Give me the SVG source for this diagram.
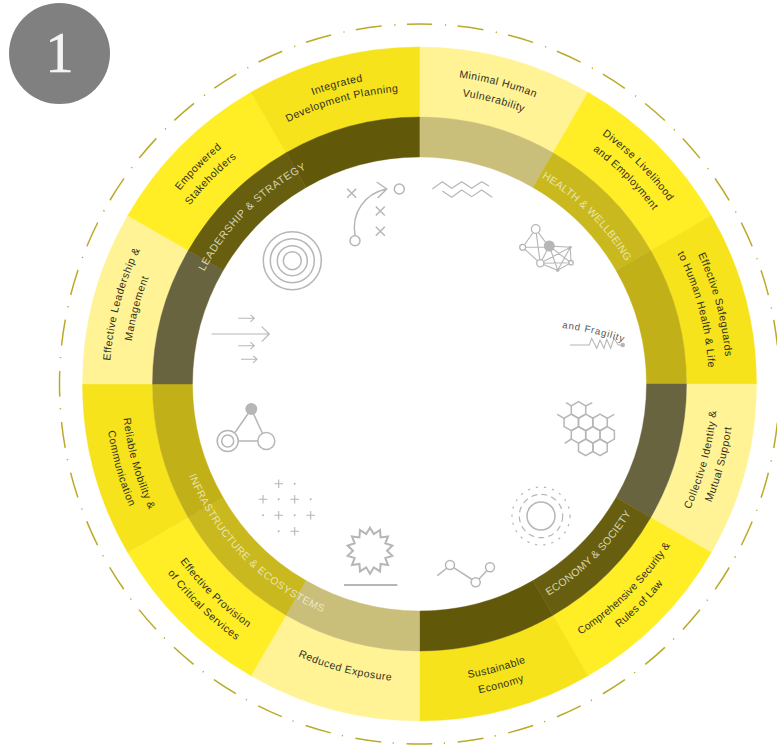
<svg xmlns="http://www.w3.org/2000/svg" width="777" height="745" viewBox="0 0 777 745">
<style>
text{font-family:"Liberation Sans",Arial,sans-serif}
.pale{fill:#fff396;stroke:#fff396}.bright{fill:#ffed25;stroke:#ffed25}.mid{fill:#f6e31b;stroke:#f6e31b}
.b1{fill:#c9be7a;stroke:#c9be7a}.b2{fill:#c9b91f;stroke:#c9b91f}.b3{fill:#c1b018;stroke:#c1b018}.b4{fill:#696440;stroke:#696440}.b5{fill:#675e10;stroke:#675e10}.b6{fill:#625809;stroke:#625809}
#sectors path,#bands path{stroke-width:.4}
.lab{font-size:10.5px;letter-spacing:.5px;fill:#2f2f22;text-anchor:middle}
.tight{letter-spacing:.15px}
.band{font-size:10.5px;letter-spacing:.6px;fill:#f4f1d6;fill-opacity:.82;text-anchor:middle}
.ic{fill:none;stroke:#b6b6b6;stroke-width:1.5}
.th{stroke-width:1.1}
.fillg{fill:#b6b6b6;stroke:none}
</style>
<defs>
<path id="t240" d="M211.7 264A240 240 0 0 1 627.3 264"/>
<path id="t243" d="M209.1 262.5A243 243 0 0 1 629.9 262.5"/>
<path id="t289" d="M169.2 239.5A289 289 0 0 1 669.8 239.5"/>
<path id="t291" d="M167.5 238.5A291 291 0 0 1 671.5 238.5"/>
<path id="t293" d="M165.8 237.5A293 293 0 0 1 673.2 237.5"/>
<path id="t307" d="M153.6 230.5A307 307 0 0 1 685.4 230.5"/>
<path id="t308" d="M152.8 230A308 308 0 0 1 686.2 230"/>
<path id="t309" d="M151.9 229.5A309 309 0 0 1 687.1 229.5"/>
<path id="t310" d="M151 229A310 310 0 0 1 688 229"/>
<path id="b248" d="M204.7 508A248 248 0 0 0 634.3 508"/>
<path id="b298" d="M161.4 533A298 298 0 0 0 677.6 533"/>
<path id="b315" d="M146.7 541.5A315 315 0 0 0 692.3 541.5"/>
<path id="fr" d="M562 328Q595 332 626 343"/>
<polygon id="hex" points="0,-8.3 7.2,-4.15 7.2,4.15 0,8.3 -7.2,4.15 -7.2,-4.15"/>
<path id="plus" d="M-4.3 0H4.3M0 -4.3V4.3"/>
<path id="cross" d="M-4.5 -4.5L4.5 4.5M4.5 -4.5L-4.5 4.5"/>
</defs>

<circle id="dashed-ring" cx="419.5" cy="384" r="360" fill="none" stroke="#b9aa28" stroke-width="1.5" stroke-dasharray="26 12.7 1.2 11.5" stroke-dashoffset="13.2" transform="rotate(-90 419.5 384)"/>

<g id="badge">
<circle cx="59.5" cy="53.5" r="50.5" fill="#808080"/>
<text x="59.5" y="72" font-size="56" text-anchor="middle" fill="#f4f4f4" stroke="#f4f4f4" stroke-width=".7" style="font-family:'Liberation Serif','Times New Roman',serif">1</text>
</g>

<g id="sectors">
<path id="s-minimal" class="pale" d="M419.5 47A337 337 0 0 1 588 92.2L553 152.8A267 267 0 0 0 419.5 117Z"/>
<path id="s-diverse" class="bright" d="M588 92.2A337 337 0 0 1 711.3 215.5L650.7 250.5A267 267 0 0 0 553 152.8Z"/>
<path id="s-safeguards" class="mid" d="M711.3 215.5A337 337 0 0 1 756.5 384L686.5 384A267 267 0 0 0 650.7 250.5Z"/>
<path id="s-collective" class="pale" d="M756.5 384A337 337 0 0 1 711.3 552.5L650.7 517.5A267 267 0 0 0 686.5 384Z"/>
<path id="s-security" class="bright" d="M711.3 552.5A337 337 0 0 1 588 675.8L553 615.2A267 267 0 0 0 650.7 517.5Z"/>
<path id="s-economy" class="mid" d="M588 675.8A337 337 0 0 1 419.5 721L419.5 651A267 267 0 0 0 553 615.2Z"/>
<path id="s-exposure" class="pale" d="M419.5 721A337 337 0 0 1 251 675.8L286 615.2A267 267 0 0 0 419.5 651Z"/>
<path id="s-provision" class="bright" d="M251 675.8A337 337 0 0 1 127.7 552.5L188.3 517.5A267 267 0 0 0 286 615.2Z"/>
<path id="s-mobility" class="mid" d="M127.7 552.5A337 337 0 0 1 82.5 384L152.5 384A267 267 0 0 0 188.3 517.5Z"/>
<path id="s-leadership" class="pale" d="M82.5 384A337 337 0 0 1 127.7 215.5L188.3 250.5A267 267 0 0 0 152.5 384Z"/>
<path id="s-empowered" class="bright" d="M127.7 215.5A337 337 0 0 1 251 92.2L286 152.8A267 267 0 0 0 188.3 250.5Z"/>
<path id="s-integrated" class="mid" d="M251 92.2A337 337 0 0 1 419.5 47L419.5 117A267 267 0 0 0 286 152.8Z"/>
</g>

<g id="bands">
<path class="b1" d="M419.5 117A267 267 0 0 1 553 152.8L533 187.4A227 227 0 0 0 419.5 157Z"/>
<path class="b2" d="M553 152.8A267 267 0 0 1 650.7 250.5L616.1 270.5A227 227 0 0 0 533 187.4Z"/>
<path class="b3" d="M650.7 250.5A267 267 0 0 1 686.5 384L646.5 384A227 227 0 0 0 616.1 270.5Z"/>
<path class="b4" d="M686.5 384A267 267 0 0 1 650.7 517.5L616.1 497.5A227 227 0 0 0 646.5 384Z"/>
<path class="b5" d="M650.7 517.5A267 267 0 0 1 553 615.2L533 580.6A227 227 0 0 0 616.1 497.5Z"/>
<path class="b6" d="M553 615.2A267 267 0 0 1 419.5 651L419.5 611A227 227 0 0 0 533 580.6Z"/>
<path class="b1" d="M419.5 651A267 267 0 0 1 286 615.2L306 580.6A227 227 0 0 0 419.5 611Z"/>
<path class="b2" d="M286 615.2A267 267 0 0 1 188.3 517.5L223.1 497.5A227 227 0 0 0 306 580.6Z"/>
<path class="b3" d="M188.3 517.5A267 267 0 0 1 152.5 384L192.5 384A227 227 0 0 0 223.1 497.5Z"/>
<path class="b4" d="M152.5 384A267 267 0 0 1 188.3 250.5L223.1 270.5A227 227 0 0 0 192.5 384Z"/>
<path class="b5" d="M188.3 250.5A267 267 0 0 1 286 152.8L306 187.4A227 227 0 0 0 223.1 270.5Z"/>
<path class="b6" d="M286 152.8A267 267 0 0 1 419.5 117L419.5 157A227 227 0 0 0 306 187.4Z"/>
</g>

<g id="band-labels">
<g id="band-leadership" transform="rotate(-45 419.5 384)"><text class="band"><textPath href="#t243" startOffset="50%">LEADERSHIP &amp; STRATEGY</textPath></text></g>
<g id="band-health" transform="rotate(45 419.5 384)"><text class="band" style="letter-spacing:.3px"><textPath href="#t240" startOffset="50%">HEALTH &amp; WELLBEING</textPath></text></g>
<g id="band-economy" transform="rotate(-45 419.5 384)"><text class="band" style="letter-spacing:.3px"><textPath href="#b248" startOffset="50%">ECONOMY &amp; SOCIETY</textPath></text></g>
<g id="band-infrastructure" transform="rotate(45.6 419.5 384)"><text class="band" style="letter-spacing:.55px"><textPath href="#b248" startOffset="50%">INFRASTRUCTURE &amp; ECOSYSTEMS</textPath></text></g>
</g>

<g id="segment-labels">
<g id="lab-minimal" transform="rotate(14.7 419.5 384)"><text class="lab"><textPath href="#t309" startOffset="50%">Minimal Human</textPath></text><text class="lab"><textPath href="#t291" startOffset="50%">Vulnerability</textPath></text></g>
<g id="lab-diverse" transform="rotate(45 419.5 384)"><text class="lab"><textPath href="#t309" startOffset="50%">Diverse Livelihood</textPath></text><text class="lab"><textPath href="#t291" startOffset="50%">and Employment</textPath></text></g>
<g id="lab-safeguards" transform="rotate(75 419.5 384)"><text class="lab"><textPath href="#t307" startOffset="50%">Effective Safeguards</textPath></text><text class="lab"><textPath href="#t289" startOffset="50%">to Human Health &amp; Life</textPath></text></g>
<g id="lab-collective" transform="rotate(-75 419.5 384)"><text class="lab"><textPath href="#b298" startOffset="50%">Collective Identity &amp;</textPath></text><text class="lab"><textPath href="#b315" startOffset="50%">Mutual Support</textPath></text></g>
<g id="lab-security" transform="rotate(-45 419.5 384)"><text class="lab tight"><textPath href="#b298" startOffset="50%">Comprehensive Security &amp;</textPath></text><text class="lab tight"><textPath href="#b315" startOffset="50%">Rules of Law</textPath></text></g>
<g id="lab-economy" transform="rotate(-15.2 419.5 384)"><text class="lab"><textPath href="#b298" startOffset="50%">Sustainable</textPath></text><text class="lab"><textPath href="#b315" startOffset="50%">Economy</textPath></text></g>
<g id="lab-exposure" transform="rotate(14.7 419.5 384)"><text class="lab"><textPath href="#b298" startOffset="50%">Reduced Exposure</textPath></text></g>
<g id="lab-provision" transform="rotate(44.3 419.5 384)"><text class="lab"><textPath href="#b298" startOffset="50%">Effective Provision</textPath></text><text class="lab"><textPath href="#b315" startOffset="50%">of Critical Services</textPath></text></g>
<g id="lab-mobility" transform="rotate(74.2 419.5 384)"><text class="lab"><textPath href="#b298" startOffset="50%">Reliable Mobility &amp;</textPath></text><text class="lab"><textPath href="#b315" startOffset="50%">Communication</textPath></text></g>
<g id="lab-leadership" transform="rotate(-75 419.5 384)"><text class="lab"><textPath href="#t310" startOffset="50%">Effective  Leadership &amp;</textPath></text><text class="lab"><textPath href="#t291" startOffset="50%">Management</textPath></text></g>
<g id="lab-empowered" transform="rotate(-45.5 419.5 384)"><text class="lab"><textPath href="#t308" startOffset="50%">Empowered</textPath></text><text class="lab"><textPath href="#t291" startOffset="50%">Stakeholders</textPath></text></g>
<g id="lab-integrated" transform="rotate(-15.4 419.5 384)"><text class="lab"><textPath href="#t308" startOffset="50%">Integrated</textPath></text><text class="lab"><textPath href="#t293" startOffset="50%">Development Planning</textPath></text></g>
</g>

<g id="icon-target" class="ic">
<circle cx="292.3" cy="260.7" r="29"/><circle cx="292.3" cy="260.7" r="22"/><circle cx="292.3" cy="260.7" r="15"/><circle cx="292.3" cy="260.7" r="9"/>
</g>
<g id="icon-play" class="ic">
<circle cx="355" cy="240.7" r="5"/><circle cx="399.3" cy="189" r="5"/>
<path d="M355 235.7C351 212 365 194 386 189M376.7 182L386.7 189L377.7 198"/>
<use href="#cross" x="351.7" y="193.3"/><use href="#cross" x="380.3" y="211"/><use href="#cross" x="380.3" y="231.3"/>
</g>
<g id="icon-arrows" class="ic th">
<path d="M238.3 318.3H254.3M250.5 314.8L254.3 318.3L250.5 321.8"/>
<path d="M211.7 334H269.3M261.7 326.7L269.3 334L261.7 341.7"/>
<path d="M238.3 345.7H254.3M250.5 342.2L254.3 345.7L250.5 349.2"/>
<path d="M241 359.3H257M253.2 355.8L257 359.3L253.2 362.8"/>
</g>
<g id="icon-zigzag" class="ic th">
<path d="M432.3 189L442.3 181.7L451.7 188.3L461.7 181.7L471.7 188.3L481.7 181.7L489 186"/>
<path d="M442.3 191L451.7 197.3L461.7 190L471.7 196.7L481.7 190L492.3 197.3"/>
</g>
<g id="icon-network" class="ic th">
<path d="M535.7 229L522.7 247.3H549.3L535.7 229L540.3 263.3M549.3 246L540.3 263.3L522.7 247.3M549.3 246L570.3 247.3L571 262.7L557.7 270.3L549.3 246L571 262.7L540.3 263.3L557.7 270.3L570.3 247.3L540.3 263.3"/>
<circle cx="535.7" cy="229" r="4.3" fill="#fff" stroke-width="1.3"/><circle cx="522.7" cy="247.3" r="3" fill="#fff" stroke-width="1.3"/>
<circle cx="540.3" cy="263.3" r="3.6" fill="#fff" stroke-width="1.3"/><circle cx="571" cy="262.7" r="2.2" fill="#fff" stroke-width="1.3"/>
<circle class="fillg" cx="549.3" cy="246" r="5.5"/><circle class="fillg" cx="570.3" cy="247.3" r="1.4"/><circle class="fillg" cx="557.7" cy="270.3" r="1.6"/>
</g>
<g id="icon-fragility">
<path class="ic th" d="M570 345H589.3L591.7 338.3L596.7 348.3L600 340L604 348.3L606.7 339.3L610.7 348.3L614 338.3L618.3 345H622.7"/>
<circle class="fillg" cx="622.7" cy="345" r="2.3"/>
<text font-size="9.5" letter-spacing=".9" fill="#555"><textPath href="#fr">and Fragility</textPath></text>
</g>
<g id="icon-honeycomb" class="ic">
<use href="#hex" x="578.5" y="410"/>
<use href="#hex" x="571.3" y="422.4"/><use href="#hex" x="585.7" y="422.4"/><use href="#hex" x="600" y="422.4"/>
<use href="#hex" x="578.5" y="434.9"/><use href="#hex" x="592.9" y="434.9"/><use href="#hex" x="607.2" y="434.9"/>
<use href="#hex" x="585.7" y="447.3"/><use href="#hex" x="600" y="447.3"/>
<path d="M571.3 405.9L566 402.7M585.7 405.9L592.3 402.7M564.1 418.3L557.3 414.3M607.2 418.3L614.3 414.3M571.3 439L564.7 443.3"/>
</g>
<g id="icon-rings" class="ic">
<circle cx="541" cy="516" r="14"/>
<circle cx="541" cy="516" r="21.7" stroke-dasharray="6 4.2" stroke-width="1.2"/>
<circle cx="541" cy="516" r="29" stroke-dasharray="2.2 6" stroke-width="1.2"/>
</g>
<g id="icon-chain" class="ic">
<path d="M437.3 575.7L447 568M453.7 567.7L472 579.5M479 579L487 570.5"/>
<circle cx="450" cy="565" r="4.5"/><circle cx="475.7" cy="582.3" r="4.5"/><circle cx="490" cy="567.3" r="4.5"/>
</g>
<g id="icon-burst">
<polygon class="ic" style="stroke-width:2" points="370,527.7 373.8,534.1 380,530 380.6,537.4 388,536.4 385.3,543.3 392.4,545.6 387,550.7 392.4,555.8 385.3,558.1 388,565 380.6,564 380,571.4 373.8,567.3 370,573.7 366.2,567.3 360,571.4 359.4,564 352,565 354.7,558.1 347.6,555.8 353,550.7 347.6,545.6 354.7,543.3 352,536.4 359.4,537.4 360,530 366.2,534.1"/>
<path class="ic" style="stroke-width:2" d="M344 585H397.3"/>
</g>
<g id="icon-grid">
<g class="ic th"><use href="#plus" x="278.7" y="483.7"/><use href="#plus" x="263" y="499.3"/><use href="#plus" x="294.7" y="499.3"/><use href="#plus" x="278.7" y="515.3"/><use href="#plus" x="310.7" y="515.3"/><use href="#plus" x="294.7" y="531.3"/></g>
<g class="fillg"><circle cx="294.7" cy="483.7" r="1"/><circle cx="278.7" cy="499.3" r="1"/><circle cx="310.7" cy="499.3" r="1"/><circle cx="263" cy="515.3" r="1"/><circle cx="294.7" cy="515.3" r="1"/><circle cx="278.7" cy="531.3" r="1"/></g>
</g>
<g id="icon-triangle" class="ic">
<path d="M251.3 409L235 432.5M251.3 409L262.5 433.5M238.5 441H258"/>
<circle class="fillg" cx="251.3" cy="409" r="6"/>
<circle cx="227.7" cy="441" r="10.5"/><circle cx="227.7" cy="441" r="6"/><circle cx="266.3" cy="441" r="8.5"/>
</g>
</svg>
